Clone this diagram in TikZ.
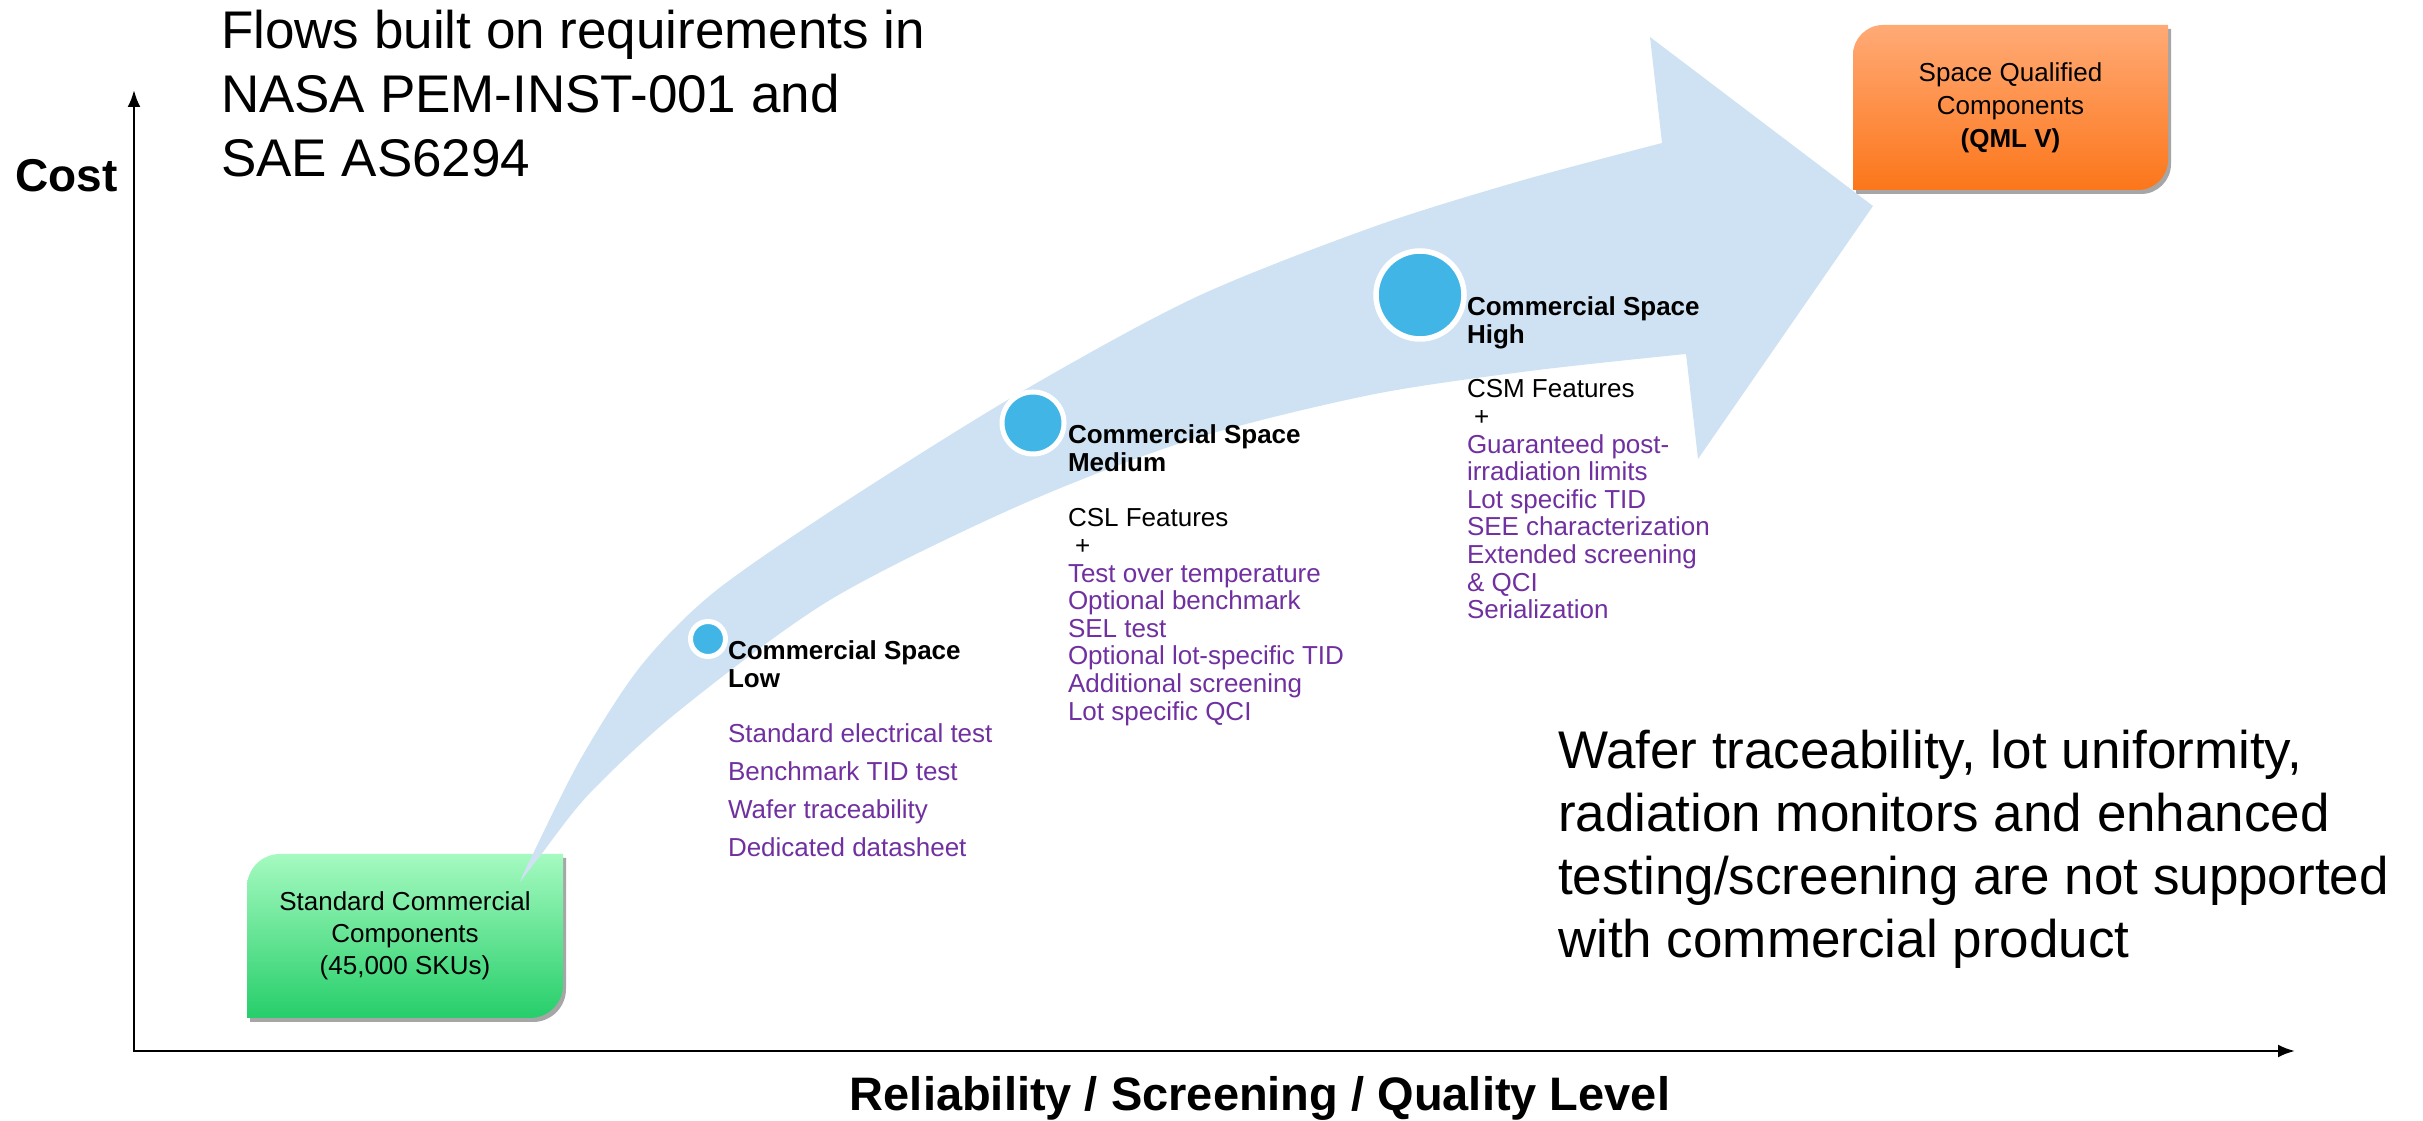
\documentclass[tikz,border=0pt]{standalone}
\usepackage{fontspec}
\setmainfont{Liberation Sans}
\usetikzlibrary{calc,shadows,backgrounds,arrows.meta}

\definecolor{purp}{RGB}{112,48,160}
\definecolor{bandblue}{RGB}{207,226,243}
\definecolor{dotblue}{RGB}{65,182,230}
\definecolor{greentop}{RGB}{165,250,192}
\definecolor{greenbot}{RGB}{38,206,106}
\definecolor{orangetop}{RGB}{255,170,118}
\definecolor{orangebot}{RGB}{252,118,26}

\begin{document}
\begin{tikzpicture}[x=1pt,y=1pt,
  every node/.style={inner sep=0pt, outer sep=0pt},
  % multi-line nodes are placed by the baseline of their last line
  txt/.style={anchor=base west, align=left},
  title/.style={txt, font=\fontsize{26}{27.6}\selectfont\bfseries},
  feat/.style={txt, font=\fontsize{26}{27.6}\selectfont},
  items/.style={txt, text=purp, font=\fontsize{26}{38}\selectfont},
  big/.style={txt, font=\fontsize{53}{64}\selectfont},
  axislabel/.style={font=\fontsize{47}{56}\selectfont\bfseries},
  stagedot/.style={circle, fill=dotblue, draw=white, line width=5pt},
  axis/.style={line width=2.5pt, {Latex[length=17pt,width=13pt]}-{Latex[length=17pt,width=13pt]}},
  boxtext/.style={align=center, font=\fontsize{26}{32}\selectfont},
  shadowed/.style={drop shadow={shadow xshift=3pt, shadow yshift=-4pt, opacity=0.35, fill=black}},
]
\useasboundingbox (0,0) rectangle (2423,1121);

% axes
\coordinate (O) at (134,70);
\coordinate (ytop) at (134,1031);
\coordinate (xend) at (2295,70);
\draw[axis] (ytop) -- (O) -- (xend);

% component boxes (diagonal rounded corners)
\node[boxtext, minimum width=316pt, minimum height=164pt] (std) at (405,185)
  {Standard Commercial\\Components\\(45,000 SKUs)};
\node[boxtext, font=\fontsize{26}{33}\selectfont, minimum width=315pt, minimum height=165pt] (sq) at (2010.5,1013.5)
  {Space Qualified\\Components\\\textbf{(QML V)}};
\begin{scope}[on background layer]
  \path[shadowed, top color=greentop, bottom color=greenbot]
    ($(std.north west)+(0,-33)$) arc[start angle=180, end angle=90, radius=33pt]
    -- (std.north east) -- ($(std.south east)+(0,33)$)
    arc[start angle=0, end angle=-90, radius=33pt] -- (std.south west) -- cycle;
  \path[shadowed, top color=orangetop, bottom color=orangebot]
    ($(sq.north west)+(0,-30)$) arc[start angle=180, end angle=90, radius=30pt]
    -- (sq.north east) -- ($(sq.south east)+(0,30)$)
    arc[start angle=0, end angle=-90, radius=30pt] -- (sq.south west) -- cycle;
\end{scope}

% curved progression arrow
\fill[bandblue] (520,239)
  -- plot[smooth] coordinates {(520,239) (530,261) (580,361) (640,454) (713,528) (837,614)
                               (1016,726) (1194,823) (1373,894) (1520,940) (1662,978)}
  -- (1650,1084) -- (1873,915) -- (1698,662) -- (1686,767)
  -- plot[smooth] coordinates {(1686,767) (1530,750) (1370,726) (1190,681) (1016,614)
                               (830,521) (680,411) (590,328) (540,265) (520,239)}
  -- cycle;

% stage markers
\node[stagedot, minimum size=35pt] (dlow) at (708,482) {};
\node[stagedot, minimum size=62pt] (dmed) at (1033,698) {};
\node[stagedot, minimum size=88pt, line width=5.5pt] (dhigh) at (1420,826) {};

% stage descriptions
\node[title] (lowT) at (728,433.4) {Commercial Space\\Low};
\node[items] (lowL) at (728,264)
  {Standard electrical test\\Benchmark TID test\\Wafer traceability\\Dedicated datasheet};

\node[title] (medT) at (1068,649.4) {Commercial Space\\Medium};
\node[feat] (medF) at (1068,400.8)
  {CSL Features\\\hspace*{0.278em}+\\
   \textcolor{purp}{Test over temperature}\\
   \textcolor{purp}{Optional benchmark}\\
   \textcolor{purp}{SEL test}\\
   \textcolor{purp}{Optional lot-specific TID}\\
   \textcolor{purp}{Additional screening}\\
   \textcolor{purp}{Lot specific QCI}};

\node[title] (highT) at (1467,777.4) {Commercial Space\\High};
\node[feat] (highF) at (1467,502.2)
  {CSM Features\\\hspace*{0.278em}+\\
   \textcolor{purp}{Guaranteed post-}\\
   \textcolor{purp}{irradiation limits}\\
   \textcolor{purp}{Lot specific TID}\\
   \textcolor{purp}{SEE characterization}\\
   \textcolor{purp}{Extended screening}\\
   \textcolor{purp}{\& QCI}\\
   \textcolor{purp}{Serialization}};

% notes
\node[big] (flows) at (221,944)
  {Flows built on requirements in\\NASA PEM-INST-001 and\\SAE AS6294};
\node[big, font=\fontsize{53}{63}\selectfont] (note) at (1558,163)
  {Wafer traceability, lot uniformity,\\radiation monitors and enhanced\\testing/screening are not supported\\with commercial product};

% axis labels
\node[axislabel, anchor=base west, font=\fontsize{46}{56}\selectfont\bfseries] (cost) at (15.5,929) {Cost};
\node[axislabel, anchor=base] (xlab) at (1260,10) {Reliability / Screening / Quality Level};
\end{tikzpicture}
\end{document}
